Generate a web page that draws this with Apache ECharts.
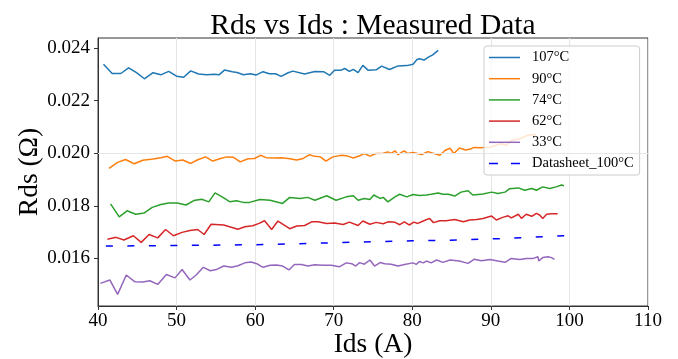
<!DOCTYPE html>
<html>
<head>
<meta charset="utf-8">
<script src="https://cdn.jsdelivr.net/npm/echarts@6/dist/echarts.min.js"></script>
<style>
  html, body { margin: 0; padding: 0; background: #fff; }
  #chart { width: 678px; height: 359px; }
</style>
</head>
<body>
<div id="chart"></div>
<script>
// Drain current (A) and on-resistance (Ohm) per junction temperature
const ids107 = [40.7,41.8,42.9,43.9,44.9,45.9,47.0,48.0,49.0,50.0,50.9,51.8,52.8,53.8,54.8,55.4,56.1,57.1,57.7,58.5,59.4,60.1,61.0,61.8,62.6,63.3,64.2,64.8,66.3,67.6,68.7,69.5,70.1,70.9,71.4,72.0,72.5,73.1,73.7,74.4,75.4,76.1,77.1,78.2,79.3,80.1,80.6,80.9,81.5,82.0,82.6,83.3];
const rds107 = [0.02338,0.02303,0.02303,0.02324,0.02306,0.02283,0.02306,0.02298,0.02311,0.02293,0.02289,0.02313,0.02301,0.02298,0.02300,0.02298,0.02316,0.02310,0.02307,0.02298,0.02302,0.02297,0.02310,0.02302,0.02302,0.02292,0.02306,0.02312,0.02301,0.02311,0.02310,0.02296,0.02315,0.02315,0.02322,0.02311,0.02319,0.02306,0.02334,0.02315,0.02317,0.02331,0.02318,0.02332,0.02333,0.02338,0.02356,0.02359,0.02354,0.02364,0.02374,0.02391];

const ids90 = [41.4,42.5,43.5,44.6,45.7,47.0,48.0,48.8,49.85,50.8,51.8,52.7,53.7,54.6,55.6,56.4,57.2,58.1,59.1,59.9,60.7,61.4,62.5,63.3,64.2,65.3,66.1,66.9,67.6,68.3,69.0,69.9,71.0,71.8,72.5,73.3,73.9,74.6,75.4,76.3,76.9,77.3,77.8,78.2,78.6,79.0,79.4,80.1,81.2,82.0,83.5,84.2,84.8,85.3,86.0,86.8,87.4,87.9,88.6,89.9,91.3,92.0,92.6,93.7,94.7,95.8];
const rds90 = [0.01942,0.01965,0.01976,0.01960,0.01973,0.01978,0.01983,0.01988,0.01970,0.01974,0.01961,0.01975,0.01986,0.01970,0.01980,0.01986,0.01985,0.01967,0.01979,0.01980,0.01992,0.01983,0.01982,0.01983,0.01980,0.01974,0.01980,0.01994,0.01988,0.01986,0.01970,0.01986,0.01992,0.01989,0.01982,0.01990,0.01999,0.01989,0.01999,0.02000,0.02005,0.01999,0.02009,0.01994,0.02003,0.02009,0.01999,0.02003,0.01995,0.02006,0.01992,0.02011,0.02019,0.01999,0.02020,0.02012,0.02016,0.02022,0.02021,0.02023,0.02036,0.02030,0.02048,0.02055,0.02068,0.02071];

const ids74 = [41.6,42.7,43.7,44.8,45.9,46.9,48.0,49.0,50.1,51.2,52.2,53.2,54.1,54.9,55.9,56.8,57.6,58.5,59.3,60.6,61.9,63.5,64.4,65.7,66.7,67.6,69.1,70.3,71.6,72.5,73.1,73.9,74.6,75.1,75.9,76.3,76.9,77.8,78.4,79.3,80.1,80.9,81.8,82.4,83.3,83.9,84.6,85.4,86.2,87.1,87.7,89.0,90.1,90.9,91.8,92.4,93.5,94.3,95.2,95.8,96.6,97.5,98.3,99.0,99.3];
const rds74 = [0.01807,0.01758,0.01781,0.01768,0.01773,0.01794,0.01805,0.01811,0.01811,0.01803,0.01820,0.01825,0.01815,0.01849,0.01832,0.01815,0.01819,0.01813,0.01813,0.01824,0.01821,0.01809,0.01832,0.01828,0.01832,0.01821,0.01838,0.01821,0.01834,0.01838,0.01821,0.01828,0.01824,0.01841,0.01828,0.01832,0.01815,0.01834,0.01844,0.01834,0.01843,0.01839,0.01841,0.01844,0.01849,0.01844,0.01844,0.01837,0.01852,0.01857,0.01841,0.01845,0.01852,0.01847,0.01852,0.01865,0.01868,0.01859,0.01866,0.01859,0.01872,0.01866,0.01872,0.01879,0.01876];

const ids62 = [41.2,42.3,43.3,44.5,45.5,46.5,47.6,48.6,49.6,50.7,51.7,52.7,53.5,54.4,56.0,57.8,58.7,59.7,60.5,61.2,62.1,62.9,64.4,65.3,66.3,67.2,68.0,69.1,70.1,71.2,72.0,73.1,73.7,74.6,75.4,76.3,76.9,77.8,78.4,79.0,79.6,80.2,80.7,81.4,82.2,82.7,83.5,84.3,85.4,86.5,87.3,88.2,89.0,90.1,90.7,91.5,92.2,92.6,93.5,93.9,94.5,95.2,95.8,96.2,96.6,97.1,97.7,98.5];
const rds62 = [0.01673,0.01680,0.01670,0.01686,0.01661,0.01691,0.01678,0.01710,0.01686,0.01699,0.01706,0.01710,0.01691,0.01730,0.01727,0.01711,0.01720,0.01724,0.01733,0.01743,0.01710,0.01742,0.01713,0.01723,0.01725,0.01739,0.01739,0.01733,0.01735,0.01729,0.01738,0.01725,0.01742,0.01730,0.01737,0.01732,0.01739,0.01737,0.01728,0.01739,0.01727,0.01738,0.01733,0.01742,0.01752,0.01736,0.01743,0.01743,0.01748,0.01739,0.01746,0.01748,0.01752,0.01761,0.01746,0.01756,0.01762,0.01754,0.01768,0.01752,0.01768,0.01760,0.01771,0.01765,0.01752,0.01768,0.01770,0.01770];

const ids33 = [40.3,41.5,42.5,43.6,44.7,45.7,46.6,47.6,48.7,49.8,50.7,51.7,52.5,53.4,54.3,55.1,56.0,57.0,57.8,58.7,59.5,60.2,61.0,61.9,62.7,63.5,64.3,65.0,65.9,66.7,67.6,68.6,69.7,70.7,71.6,72.3,72.8,73.3,73.9,74.6,75.2,75.9,76.5,77.3,78.2,79.0,80.1,80.5,80.9,81.4,81.8,82.4,83.1,83.9,84.8,86.0,87.1,87.9,88.8,89.9,90.9,91.8,92.6,93.7,94.5,95.4,96.0,96.1,96.6,97.3,97.7,98.1];
const rds33 = [0.01505,0.01518,0.01463,0.01537,0.01511,0.01510,0.01515,0.01501,0.01539,0.01526,0.01558,0.01518,0.01537,0.01566,0.01553,0.01558,0.01571,0.01566,0.01572,0.01583,0.01586,0.01580,0.01566,0.01574,0.01575,0.01571,0.01556,0.01577,0.01577,0.01571,0.01576,0.01574,0.01574,0.01568,0.01583,0.01580,0.01571,0.01584,0.01578,0.01594,0.01571,0.01584,0.01580,0.01578,0.01571,0.01577,0.01583,0.01577,0.01588,0.01583,0.01590,0.01583,0.01594,0.01585,0.01594,0.01590,0.01581,0.01597,0.01591,0.01596,0.01590,0.01585,0.01600,0.01596,0.01600,0.01600,0.01606,0.01590,0.01603,0.01606,0.01603,0.01596];

// Datasheet curve at 100 °C
const idsSheet = [41, 50, 60, 67, 72, 80, 86, 92, 98, 101];
const rdsSheet = [0.01647, 0.01649, 0.01652, 0.01657, 0.01661, 0.01667, 0.01670, 0.01676, 0.01684, 0.01689];

const seriesNames = ['107°C', '90°C', '74°C', '62°C', '33°C', 'Datasheet_100°C'];
const xTicks = [40, 50, 60, 70, 80, 90, 100, 110];
const yTicks = [0.016, 0.018, 0.020, 0.022, 0.024];

const SERIF = "'Liberation Serif', 'Times New Roman', serif";
const zip = (xs, ys) => xs.map((x, i) => [x, ys[i]]);

// Legend glyphs: a short solid stroke, or two dashes for the dashed series
const SOLID_ICON = 'path://M0,0h31v1.5h-31z';
const DASH_ICON = 'path://M0,0h9v1.5h-9z M22,0h9v1.5h-9z';

const lines = [
  { name: seriesNames[0], xs: ids107, ys: rds107, color: '#1f77b4' },
  { name: seriesNames[1], xs: ids90, ys: rds90, color: '#ff7f0e' },
  { name: seriesNames[2], xs: ids74, ys: rds74, color: '#2ca02c' },
  { name: seriesNames[3], xs: ids62, ys: rds62, color: '#d62728' },
  { name: seriesNames[4], xs: ids33, ys: rds33, color: '#9467bd' },
  { name: seriesNames[5], xs: idsSheet, ys: rdsSheet, color: '#0000ff', dash: [7, 14.5] }
];

const chart = echarts.init(document.getElementById('chart'), null, { renderer: 'canvas' });

const dataSeries = lines.map(l => ({
  name: l.name,
  type: 'line',
  data: zip(l.xs, l.ys),
  symbol: 'none',
  showSymbol: false,
  smooth: false,
  lineStyle: { color: l.color, width: 1.5, type: l.dash || 'solid' },
  itemStyle: { color: l.color },
  emphasis: { disabled: true },
  z: 3
}));

// Horizontal grid lines at the labelled Rds ticks
const gridSeries = {
  name: 'yGrid',
  type: 'line',
  data: [],
  silent: true,
  z: 1,
  markLine: {
    silent: true,
    symbol: ['none', 'none'],
    label: { show: false },
    lineStyle: { color: '#e6e6e6', width: 1, type: 'solid' },
    emphasis: { disabled: true },
    animation: false,
    data: yTicks.map(v => ({ yAxis: v }))
  }
};

chart.setOption({
  animation: false,
  backgroundColor: '#ffffff',
  textStyle: { fontFamily: SERIF },
  title: {
    text: 'Rds vs Ids : Measured Data',
    left: 368,
    top: 6,
    textAlign: 'center',
    textStyle: { fontFamily: SERIF, fontSize: 29.5, fontWeight: 'normal', color: '#000' }
  },
  grid: {
    left: 98, right: 30, top: 38, bottom: 53,
    outerBoundsMode: 'none',
    containLabel: false,
    show: true, borderColor: '#333', borderWidth: 1, backgroundColor: 'transparent'
  },
  legend: {
    data: lines.map(l => ({ name: l.name, icon: l.dash ? DASH_ICON : SOLID_ICON })),
    orient: 'vertical',
    left: 484,
    top: 46,
    padding: [4, 6, 4, 5],
    itemWidth: 31,
    itemHeight: 14,
    itemGap: 6.2,
    symbolKeepAspect: true,
    backgroundColor: 'rgba(255,255,255,0.8)',
    borderColor: '#cccccc',
    borderWidth: 1,
    borderRadius: 3,
    selectedMode: false,
    textStyle: { fontFamily: SERIF, fontSize: 14.5, color: '#000', padding: [0, 0, 0, 7] }
  },
  xAxis: {
    type: 'value',
    min: xTicks[0],
    max: xTicks[xTicks.length - 1],
    interval: 10,
    name: 'Ids (A)',
    nameLocation: 'middle',
    nameGap: 25,
    nameMoveOverlap: false,
    nameTextStyle: { fontFamily: SERIF, fontSize: 27.5, color: '#000' },
    axisLine: { show: true, onZero: false, lineStyle: { color: '#333', width: 1 } },
    axisTick: { show: true, inside: false, length: 4, lineStyle: { color: '#333' } },
    axisLabel: { fontFamily: SERIF, fontSize: 19, color: '#000', margin: 6 },
    splitLine: { show: true, lineStyle: { color: '#e6e6e6', width: 1 } }
  },
  yAxis: {
    type: 'value',
    min: 0.01419,
    max: 0.02438,
    name: 'Rds (Ω)',
    nameLocation: 'middle',
    nameGap: 54,
    nameMoveOverlap: false,
    nameRotate: 90,
    nameTextStyle: { fontFamily: SERIF, fontSize: 27.5, color: '#000' },
    axisLine: { show: true, onZero: false, lineStyle: { color: '#333', width: 1 } },
    axisTick: { show: true, inside: false, length: 4, lineStyle: { color: '#333' }, customValues: yTicks },
    axisLabel: {
      fontFamily: SERIF, fontSize: 19, color: '#000', margin: 8,
      customValues: yTicks,
      formatter: v => v.toFixed(3)
    },
    splitLine: { show: false }
  },
  series: [gridSeries].concat(dataSeries)
});
</script>
</body>
</html>
